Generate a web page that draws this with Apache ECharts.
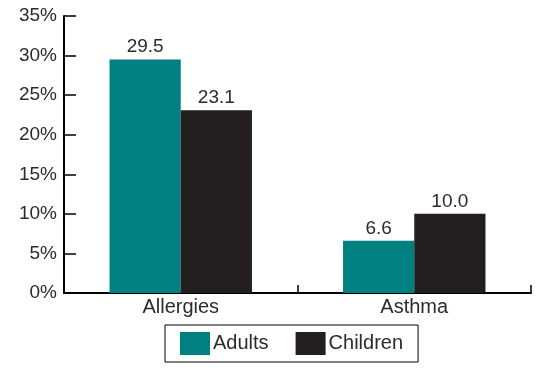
<!DOCTYPE html>
<html>
<head>
<meta charset="utf-8">
<script src="https://cdn.jsdelivr.net/npm/echarts@6/dist/echarts.min.js"></script>
<style>
  html, body { margin: 0; padding: 0; background: #fff; }
  #chart { width: 540px; height: 370px; }
</style>
</head>
<body>
<div id="chart"></div>
<script>
// Prevalence (%) by condition and age group
const categories = ['Allergies', 'Asthma'];
const adults = [29.5, 6.6];
const children = [23.1, 10.0];
const seriesNames = ['Adults', 'Children'];

const FONT = '"Liberation Sans", Arial, sans-serif';
const TEXT = '#2b2b2b';

const chart = echarts.init(document.getElementById('chart'), null, { renderer: 'canvas' });

const labelStyle = {
  show: true,
  position: 'top',
  distance: 3,
  fontFamily: FONT,
  fontSize: 19,
  color: TEXT,
  formatter: p => p.value.toFixed(1)
};

chart.setOption({
  animation: false,
  grid: { left: 64, right: 9, top: 16, bottom: 77 },
  xAxis: {
    type: 'category',
    data: categories,
    axisLine: { lineStyle: { color: '#000', width: 2 } },
    axisTick: { show: true, inside: true, length: 8, alignWithLabel: false, lineStyle: { color: '#000', width: 1.5 } },
    axisLabel: { fontFamily: FONT, fontSize: 20, color: TEXT, margin: 4 }
  },
  yAxis: {
    type: 'value',
    min: 0,
    max: 35,
    interval: 5,
    axisLine: { show: true, lineStyle: { color: '#000', width: 2 } },
    axisTick: { show: true, inside: true, length: 12, lineStyle: { color: '#000', width: 1.5 } },
    splitLine: { show: false },
    axisLabel: { fontFamily: FONT, fontSize: 19, color: TEXT, margin: 7, formatter: '{value}%' }
  },
  legend: {
    data: seriesNames,
    left: 165,
    top: 325,
    itemWidth: 30,
    itemHeight: 23,
    itemGap: 27,
    padding: [7, 15, 7, 15],
    borderColor: '#000',
    borderWidth: 1,
    icon: 'rect',
    textStyle: { fontFamily: FONT, fontSize: 20, color: TEXT, padding: [0, 0, 0, -2] }
  },
  series: [
    {
      name: seriesNames[0],
      type: 'bar',
      data: adults,
      barGap: '0%',
      barCategoryGap: '39%',
      itemStyle: { color: '#008080' },
      label: labelStyle
    },
    {
      name: seriesNames[1],
      type: 'bar',
      data: children,
      itemStyle: { color: '#231f20' },
      label: labelStyle
    }
  ]
});
</script>
</body>
</html>
